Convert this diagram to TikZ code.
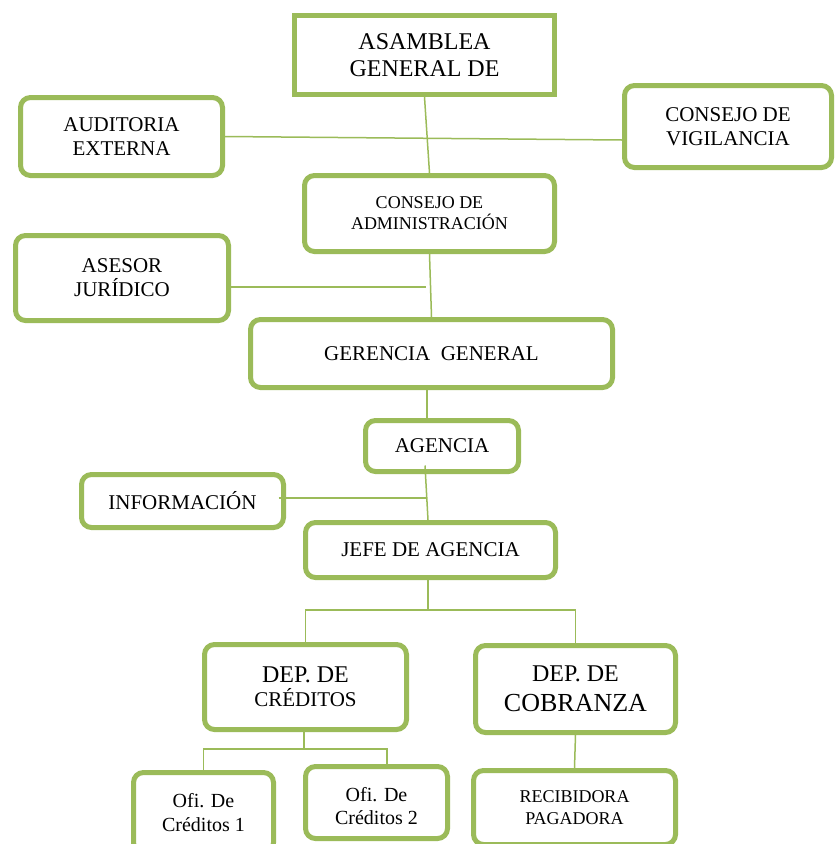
\documentclass[tikz,border=0pt]{standalone}
\usepackage{fontspec}
\setmainfont{Liberation Serif}
\usepackage{tikz}

\definecolor{olivo}{RGB}{155,187,89}
\newcommand{\tam}[2]{\fontsize{#1}{#2}\selectfont}
\tikzset{
  caja/.style={draw=olivo, line width=5pt, rounded corners=10pt, align=center, inner sep=0pt},
  linea/.style={draw=olivo, line width=1.5pt}
}

\begin{document}
\begin{tikzpicture}[x=1pt,y=-1pt]
  \clip (0,0) rectangle (835,844);
  \node[caja, sharp corners, minimum width=260pt, minimum height=79pt, font=\tam{24}{27}] (asamblea) at (424.5,55) {ASAMBLEA\\GENERAL DE};
  \node[caja, minimum width=202pt, minimum height=78pt, font=\tam{21}{24}] (auditoria) at (121.5,136.5) {AUDITORIA\\EXTERNA};
  \node[caja, minimum width=207pt, minimum height=82pt, font=\tam{21}{24}] (vigilancia) at (728,126.5) {CONSEJO DE\\VIGILANCIA};
  \node[caja, minimum width=250pt, minimum height=76pt, font=\tam{18}{21}] (admin) at (429.5,213.5) {CONSEJO DE\\ADMINISTRACIÓN};
  \node[caja, minimum width=213pt, minimum height=85pt, font=\tam{21}{24}] (asesor) at (122,278) {ASESOR\\JURÍDICO};
  \node[caja, minimum width=362pt, minimum height=68pt, font=\tam{21}{24}] (gerencia) at (431.5,353.5) {GERENCIA\ \ GENERAL};
  \node[caja, minimum width=153pt, minimum height=51pt, font=\tam{21}{24}] (agencia) at (442,446) {AGENCIA};
  \node[caja, minimum width=202pt, minimum height=53pt, font=\tam{21}{24}] (informacion) at (182.5,501) {INFORMACIÓN};
  \node[caja, minimum width=250pt, minimum height=55pt, font=\tam{21}{24}] (jefe) at (430.5,550) {JEFE DE AGENCIA};
  \node[caja, minimum width=202pt, minimum height=85pt, font=\tam{21}{24}] (creditos) at (305.5,687) {{\tam{24}{24}DEP. DE}\\CRÉDITOS};
  \node[caja, minimum width=200pt, minimum height=87pt, font=\tam{26}{30}] (cobranza) at (575.5,689) {{\tam{24}{24}DEP. DE}\\COBRANZA};
  \node[caja, minimum width=140pt, minimum height=80pt, font=\tam{20}{24}] (ofi1) at (203.5,812.5) {Ofi. De\\Créditos 1};
  \node[caja, minimum width=142pt, minimum height=72pt, text height=43.5pt, font=\tam{20}{23}] (ofi2) at (376.5,802.5) {Ofi. De\\Créditos 2};
  \node[caja, minimum width=202pt, minimum height=74pt, font=\tam{18}{22}] (recibidora) at (574.5,807.5) {RECIBIDORA\\PAGADORA};

  \coordinate (jur) at (426,287);
  \coordinate (inf) at (427,498);
  \coordinate (rama) at (428,610);
  \coordinate (sub) at (304,749);

  \draw[linea] (asamblea.south) -- (admin.north);
  \draw[linea] (auditoria.east) -- ([yshift=-13.5pt]vigilancia.west);
  \draw[linea] (admin.south) -- (gerencia.north);
  \draw[linea] (asesor.east |- jur) -- (jur);
  \draw[linea] ([xshift=-4.5pt]gerencia.south) -- ([xshift=-4.5pt]gerencia.south |- agencia.north);
  \draw[linea] ([xshift=-17pt,yshift=8.5pt]agencia.south) -- ([xshift=-2.5pt]jefe.north);
  \draw[linea] (informacion.east) ++(-7.5,-3) -- (inf);
  \draw[linea] ([xshift=-2.5pt]jefe.south) -- (rama);
  \draw[linea] (rama) -| (creditos.north);
  \draw[linea] (rama) -| (cobranza.north);
  \draw[linea] (creditos.south) ++(-1.5,-1.5) -- (sub);
  \draw[linea] (sub) -| (ofi1.north);
  \draw[linea] (sub) -| ([xshift=10.5pt]ofi2.north);
  \draw[linea] (cobranza.south) -- (recibidora.north);
\end{tikzpicture}
\end{document}
